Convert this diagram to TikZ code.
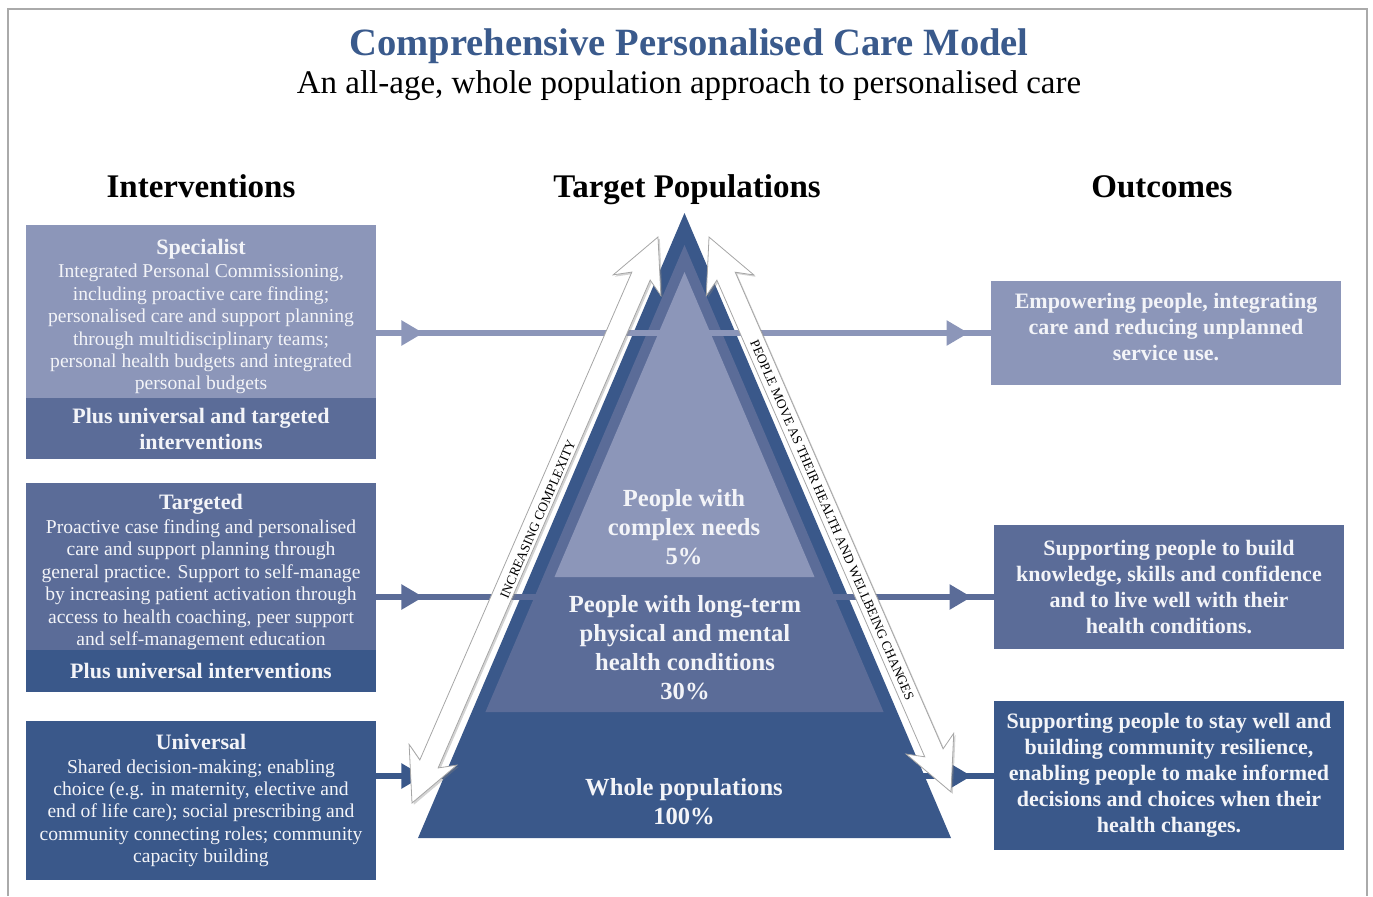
\documentclass[tikz,border=0pt]{standalone}
\usepackage{fontspec}
\setmainfont{Liberation Serif}
\usetikzlibrary{arrows.meta,decorations.markings,shadows}
\definecolor{cdark}{HTML}{3A588A}
\definecolor{cmed}{HTML}{5B6C98}
\definecolor{clight}{HTML}{8C96B9}
\definecolor{ctext}{HTML}{F3F4F8}
\definecolor{ctitle}{HTML}{3A5A8C}
\definecolor{cframe}{HTML}{AAAAAA}
\begin{document}
\begin{tikzpicture}[x=0.5pt,y=-0.5pt,
  box/.style={rectangle, inner sep=0pt, align=center, text=ctext, minimum width=175pt},
  bodyfont/.style={font=\fontsize{9.8}{11.2}\selectfont},
  boldbox/.style={font=\fontsize{11}{13}\selectfont\bfseries},
  pyrtext/.style={align=center, text=ctext, font=\fontsize{12.3}{14.5}\selectfont\bfseries, inner sep=0pt},
  header/.style={anchor=base, font=\fontsize{16.5}{20}\selectfont\bfseries},
  arrowtxt/.style={inner sep=0pt, font=\fontsize{6.7}{8}\selectfont},
  whitearrow/.style={fill=white, draw=black!35, line width=0.4pt,
    drop shadow={shadow xshift=0.9pt, shadow yshift=-0.9pt, opacity=0.35}},
  lane/.style={line width=2.7pt, draw=#1, postaction={decorate},
    decoration={markings,
      mark=at position 23.5pt with {\arrow[#1]{Triangle[length=11pt,width=12pt]}},
      mark=at position -11pt with {\arrow[#1]{Triangle[length=11pt,width=12pt]}}}}
]
\useasboundingbox (0,0) rectangle (1373,896);
% frame
\draw[cframe, line width=0.8pt] (8,896) -- (8,9) -- (1367,9) -- (1367,896);

% titles
\node[anchor=base, text=ctitle, font=\fontsize{19.3}{23}\selectfont\bfseries] (title) at (689,55) {Comprehensive Personalised Care Model};
\node[anchor=base, font=\fontsize{16.5}{20}\selectfont] (subtitle) at (689,93) {An all-age, whole population approach to personalised care};
\node[header] (hint) at (201,197) {Interventions};
\node[header] (htar) at (687,197) {Target Populations};
\node[header] (hout) at (1162,197) {Outcomes};

% pyramid
\fill[cdark] (684.5,213) -- (951,838) -- (418,838) -- cycle;
\fill[cmed] (684.5,245) -- (883.6,712) -- (485.4,712) -- cycle;
\fill[clight] (684.5,272) -- (814.5,577) -- (554.5,577) -- cycle;

% left boxes
\node[box, fill=clight, minimum height=86.5pt, bodyfont] (specU) at (201,311.5)
  {\rule{0pt}{12.8pt}{\fontsize{11}{13}\selectfont\bfseries Specialist}\\[0.6pt]
   Integrated Personal Commissioning,\\
   including proactive care finding;\\
   personalised care and support planning\\
   through multidisciplinary teams;\\
   personal health budgets and integrated\\
   personal budgets};
\node[box, fill=cmed, minimum height=30.5pt, boldbox] (specL) at (201,428.5)
  {Plus universal and targeted\\interventions};
\node[box, fill=cmed, minimum height=84pt, bodyfont] (targU) at (201,567)
  {\rule{0pt}{12.8pt}{\fontsize{11}{13}\selectfont\bfseries Targeted}\\[0.6pt]
   Proactive case finding and personalised\\
   care and support planning through\\
   general practice. Support to self-manage\\
   by increasing patient activation through\\
   access to health coaching, peer support\\
   and self-management education};
\node[box, fill=cdark, minimum height=21pt, boldbox] (targL) at (201,671)
  {Plus universal interventions};
\node[box, fill=cdark, minimum height=79.5pt, bodyfont] (univ) at (201,800.5)
  {{\fontsize{11}{13}\selectfont\bfseries Universal}\\[0.6pt]
   Shared decision-making; enabling\\
   choice (e.g. in maternity, elective and\\
   end of life care); social prescribing and\\
   community connecting roles; community\\
   capacity building};

% right boxes
\node[box, fill=clight, minimum height=52pt, boldbox] (outA) at (1166,333)
  {Empowering people, integrating\\care and reducing unplanned\\service use.\rule[-6.4pt]{0pt}{0pt}};
\node[box, fill=cmed, minimum height=62pt, boldbox] (outB) at (1169,587)
  {Supporting people to build\\knowledge, skills and confidence\\and to live well with their\\health conditions.};
\node[box, fill=cdark, minimum height=74.5pt, boldbox] (outC) at (1169,775.5)
  {Supporting people to stay well and\\building community resilience,\\enabling people to make informed\\decisions and choices when their\\health changes.};

% lanes
\coordinate (y1) at (0,333);
\coordinate (y2) at (0,597);
\coordinate (y3) at (0,776);
\draw[lane=clight] (specU.east |- y1) -- (outA.west |- y1);
\draw[lane=cmed] (targU.east |- y2) -- (outB.west |- y2);
\draw[lane=cdark] (univ.east |- y3) -- (outC.west |- y3);

% white double arrows
\begin{scope}[shift={(535,520)}, rotate=66.51]
\path[whitearrow] (-308.6,0) -- (-256,26) -- (-266,10) -- (266,10) -- (256,26) -- (308.6,0)
  -- (256,-26) -- (266,-10) -- (-266,-10) -- (-256,-26) -- cycle;
\end{scope}
\begin{scope}[shift={(830,514.5)}, rotate=-66.44]
\path[whitearrow] (-302.7,0) -- (-250,26) -- (-260,10) -- (260,10) -- (250,26) -- (302.7,0)
  -- (250,-26) -- (260,-10) -- (-260,-10) -- (-250,-26) -- cycle;
\end{scope}
\node[arrowtxt, rotate=66.51] (incr) at (538,519) {INCREASING COMPLEXITY};
\node[arrowtxt, rotate=-66.44] (move) at (832,520) {PEOPLE MOVE AS THEIR HEALTH AND WELLBEING CHANGES};

% pyramid texts
\node[pyrtext] (p5) at (684,527) {People with\\complex needs\\5\%};
\node[pyrtext] (p30) at (685,648) {People with long-term\\physical and mental\\health conditions\\30\%};
\node[pyrtext] (p100) at (684,802) {Whole populations\\100\%};
\end{tikzpicture}
\end{document}
